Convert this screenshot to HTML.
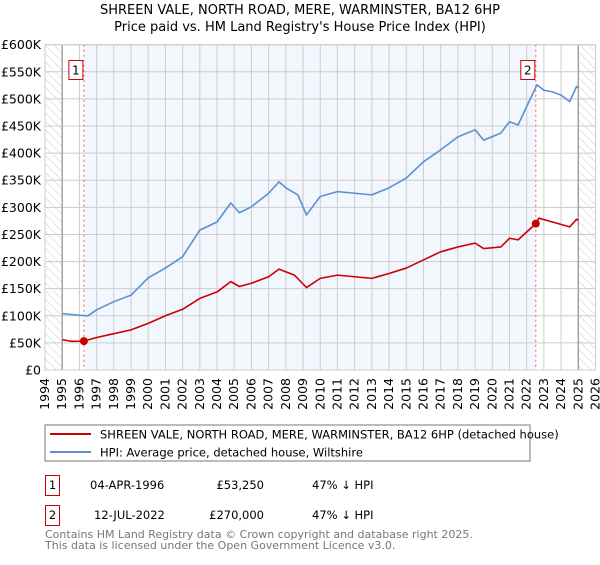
<!DOCTYPE html>
<html><head><meta charset="utf-8"><style>
body{margin:0;background:#fff;font-family:"Liberation Sans","DejaVu Sans",sans-serif;}
svg text{font-family:"DejaVu Sans","Liberation Sans",sans-serif;}
</style></head><body>
<svg id="c" width="600" height="560" xmlns="http://www.w3.org/2000/svg">
<defs><pattern id="hatch" width="6" height="6" patternUnits="userSpaceOnUse" patternTransform="rotate(-45)"><line x1="0" y1="0" x2="0" y2="6" stroke="#ccc" stroke-width="1"/></pattern></defs>
<text x="300" y="14" text-anchor="middle" font-size="13">SHREEN VALE, NORTH ROAD, MERE, WARMINSTER, BA12 6HP</text>
<text x="300" y="31" text-anchor="middle" font-size="13">Price paid vs. HM Land Registry's House Price Index (HPI)</text>
<g id="plot"></g>
<rect x="45" y="425" width="485" height="36" fill="#fff" stroke="#777"/>
<line x1="50" y1="434" x2="91" y2="434" stroke="#cc0000" stroke-width="2"/>
<text x="100" y="438.5" font-size="11.5">SHREEN VALE, NORTH ROAD, MERE, WARMINSTER, BA12 6HP (detached house)</text>
<line x1="50" y1="452" x2="91" y2="452" stroke="#5b8fd0" stroke-width="2"/>
<text x="100" y="456.5" font-size="11.5">HPI: Average price, detached house, Wiltshire</text>
<rect x="45.5" y="475.5" width="14" height="20" fill="#fff" stroke="#cc0000"/>
<text x="52.5" y="489" text-anchor="middle" font-size="11.5">1</text>
<text x="90" y="489" font-size="11.5">04-APR-1996</text>
<text x="264" y="489" text-anchor="end" font-size="11.5">£53,250</text>
<text x="312" y="489" font-size="11.5">47% ↓ HPI</text>
<rect x="45.5" y="505.5" width="14" height="20" fill="#fff" stroke="#cc0000"/>
<text x="52.5" y="519" text-anchor="middle" font-size="11.5">2</text>
<text x="94" y="519" font-size="11.5">12-JUL-2022</text>
<text x="264" y="519" text-anchor="end" font-size="11.5">£270,000</text>
<text x="312" y="519" font-size="11.5">47% ↓ HPI</text>
<text x="45" y="538" font-size="11" fill="#777">Contains HM Land Registry data © Crown copyright and database right 2025.</text>
<text x="45" y="549" font-size="11" fill="#777">This data is licensed under the Open Government Licence v3.0.</text>
</svg>
<script>
const hpiYears=[1995,1996,1996.5,1997,1998,1999,2000,2001,2002,2003,2004,2004.8,2005.3,2006,2007,2007.6,2008,2008.7,2009.2,2010,2011,2012,2013,2014,2015,2016,2017,2018,2019,2019.5,2020.5,2021,2021.5,2022,2022.6,2023,2023.5,2024,2024.5,2024.9,2025];
const hpiValues=[104,101,100,111,126,138,170,188,209,258,273,308,290,301,326,347,336,323,286,320,329,326,323,336,354,384,406,430,443,424,437,458,452,486,526,516,513,507,495,523,520];
const priceYears=[1995,1995.5,1996.26,1997,1998,1999,2000,2001,2002,2003,2004,2004.8,2005.3,2006,2007,2007.6,2008.5,2009.2,2010,2011,2012,2013,2014,2015,2016,2017,2018,2019,2019.5,2020.5,2021,2021.5,2022.53,2022.7,2023.5,2024.5,2024.9,2025];
const priceValues=[56,53,53.25,60,67,74,86,100,112,132,144,163,154,160,172,186,175,152,169,175,172,169,178,188,203,218,227,234,224,227,243,240,270,280,273,264,278,276];
const saleYears=[1996.26,2022.53];
const saleValues=[53.25,270];
const yTicks=[0,50,100,150,200,250,300,350,400,450,500,550,600];
const yTickLabels=["£0","£50K","£100K","£150K","£200K","£250K","£300K","£350K","£400K","£450K","£500K","£550K","£600K"];
const xStart=1994,xEnd=2026;
const L=45,R=595.5,T=44.7,B=370;
const X=y=>L+(y-xStart)/(xEnd-xStart)*(R-L);
const Y=v=>B-v/600*(B-T);
const g=document.getElementById('plot');
const NS='http://www.w3.org/2000/svg';
function mk(t,a){const e=document.createElementNS(NS,t);for(const k in a)e.setAttribute(k,a[k]);g.appendChild(e);return e;}
let e;
e=mk('rect',{x:L,y:T,width:R-L,height:B-T,fill:'#fff'});


e=mk('rect',{x:X(saleYears[0]),y:T,width:X(saleYears[1])-X(saleYears[0]),height:B-T,fill:'#eef3fc',opacity:0.75});


e=mk('rect',{x:L,y:T,width:X(1995)-L,height:B-T,fill:'url(#hatch)'});


e=mk('rect',{x:X(2025),y:T,width:R-X(2025),height:B-T,fill:'url(#hatch)'});


for(let yr=xStart;yr<=xEnd;yr++){
 e=mk('line',{x1:X(yr),x2:X(yr),y1:T,y2:B,stroke:'#ccc','stroke-width':1});
 
 
 const tx=X(yr)+4,ty=B+8;
 e=mk('text',{x:tx,y:ty,'font-size':12.5,'text-anchor':'end',transform:`rotate(-90 ${tx} ${ty})`});
 e.textContent=yr;
 
 
}
yTicks.forEach((v,i)=>{
 e=mk('line',{x1:L,x2:R,y1:Y(v),y2:Y(v),stroke:'#ccc','stroke-width':1});
 
 
 e=mk('text',{x:41,y:Y(v)+4.5,'font-size':12.5,'text-anchor':'end'});
 e.textContent=yTickLabels[i];
 
 
});
[1995,2025].forEach(yr=>{
 e=mk('line',{x1:X(yr),x2:X(yr),y1:T,y2:B,stroke:'#999','stroke-width':1.3});
 
 
});
saleYears.forEach((yr,i)=>{
 e=mk('line',{x1:X(yr),x2:X(yr),y1:T,y2:B,stroke:'#f06060','stroke-width':1,'stroke-dasharray':'2,3'});
 
 
 const bx=X(yr)-15;
 e=mk('rect',{x:bx,y:60.5,width:14,height:19,fill:'#fff',stroke:'#cc0000'});
 
 
 e=mk('text',{x:bx+7,y:74.5,'font-size':12,'text-anchor':'middle'});
 e.textContent=String(i+1);
 
 
});
e=mk('polyline',{points:hpiYears.map((y,i)=>X(y)+','+Y(hpiValues[i])).join(' '),fill:'none',stroke:'#5b8fd0','stroke-width':1.6,'stroke-linejoin':'round'});


e=mk('polyline',{points:priceYears.map((y,i)=>X(y)+','+Y(priceValues[i])).join(' '),fill:'none',stroke:'#cc0000','stroke-width':1.6,'stroke-linejoin':'round'});


saleYears.forEach((yr,i)=>{
 e=mk('circle',{cx:X(yr),cy:Y(saleValues[i]),r:4,fill:'#cc0000'});
 
 
});
e=mk('rect',{x:L,y:T,width:R-L,height:B-T,fill:'none',stroke:'#ccc'});


</script>
</body></html>
